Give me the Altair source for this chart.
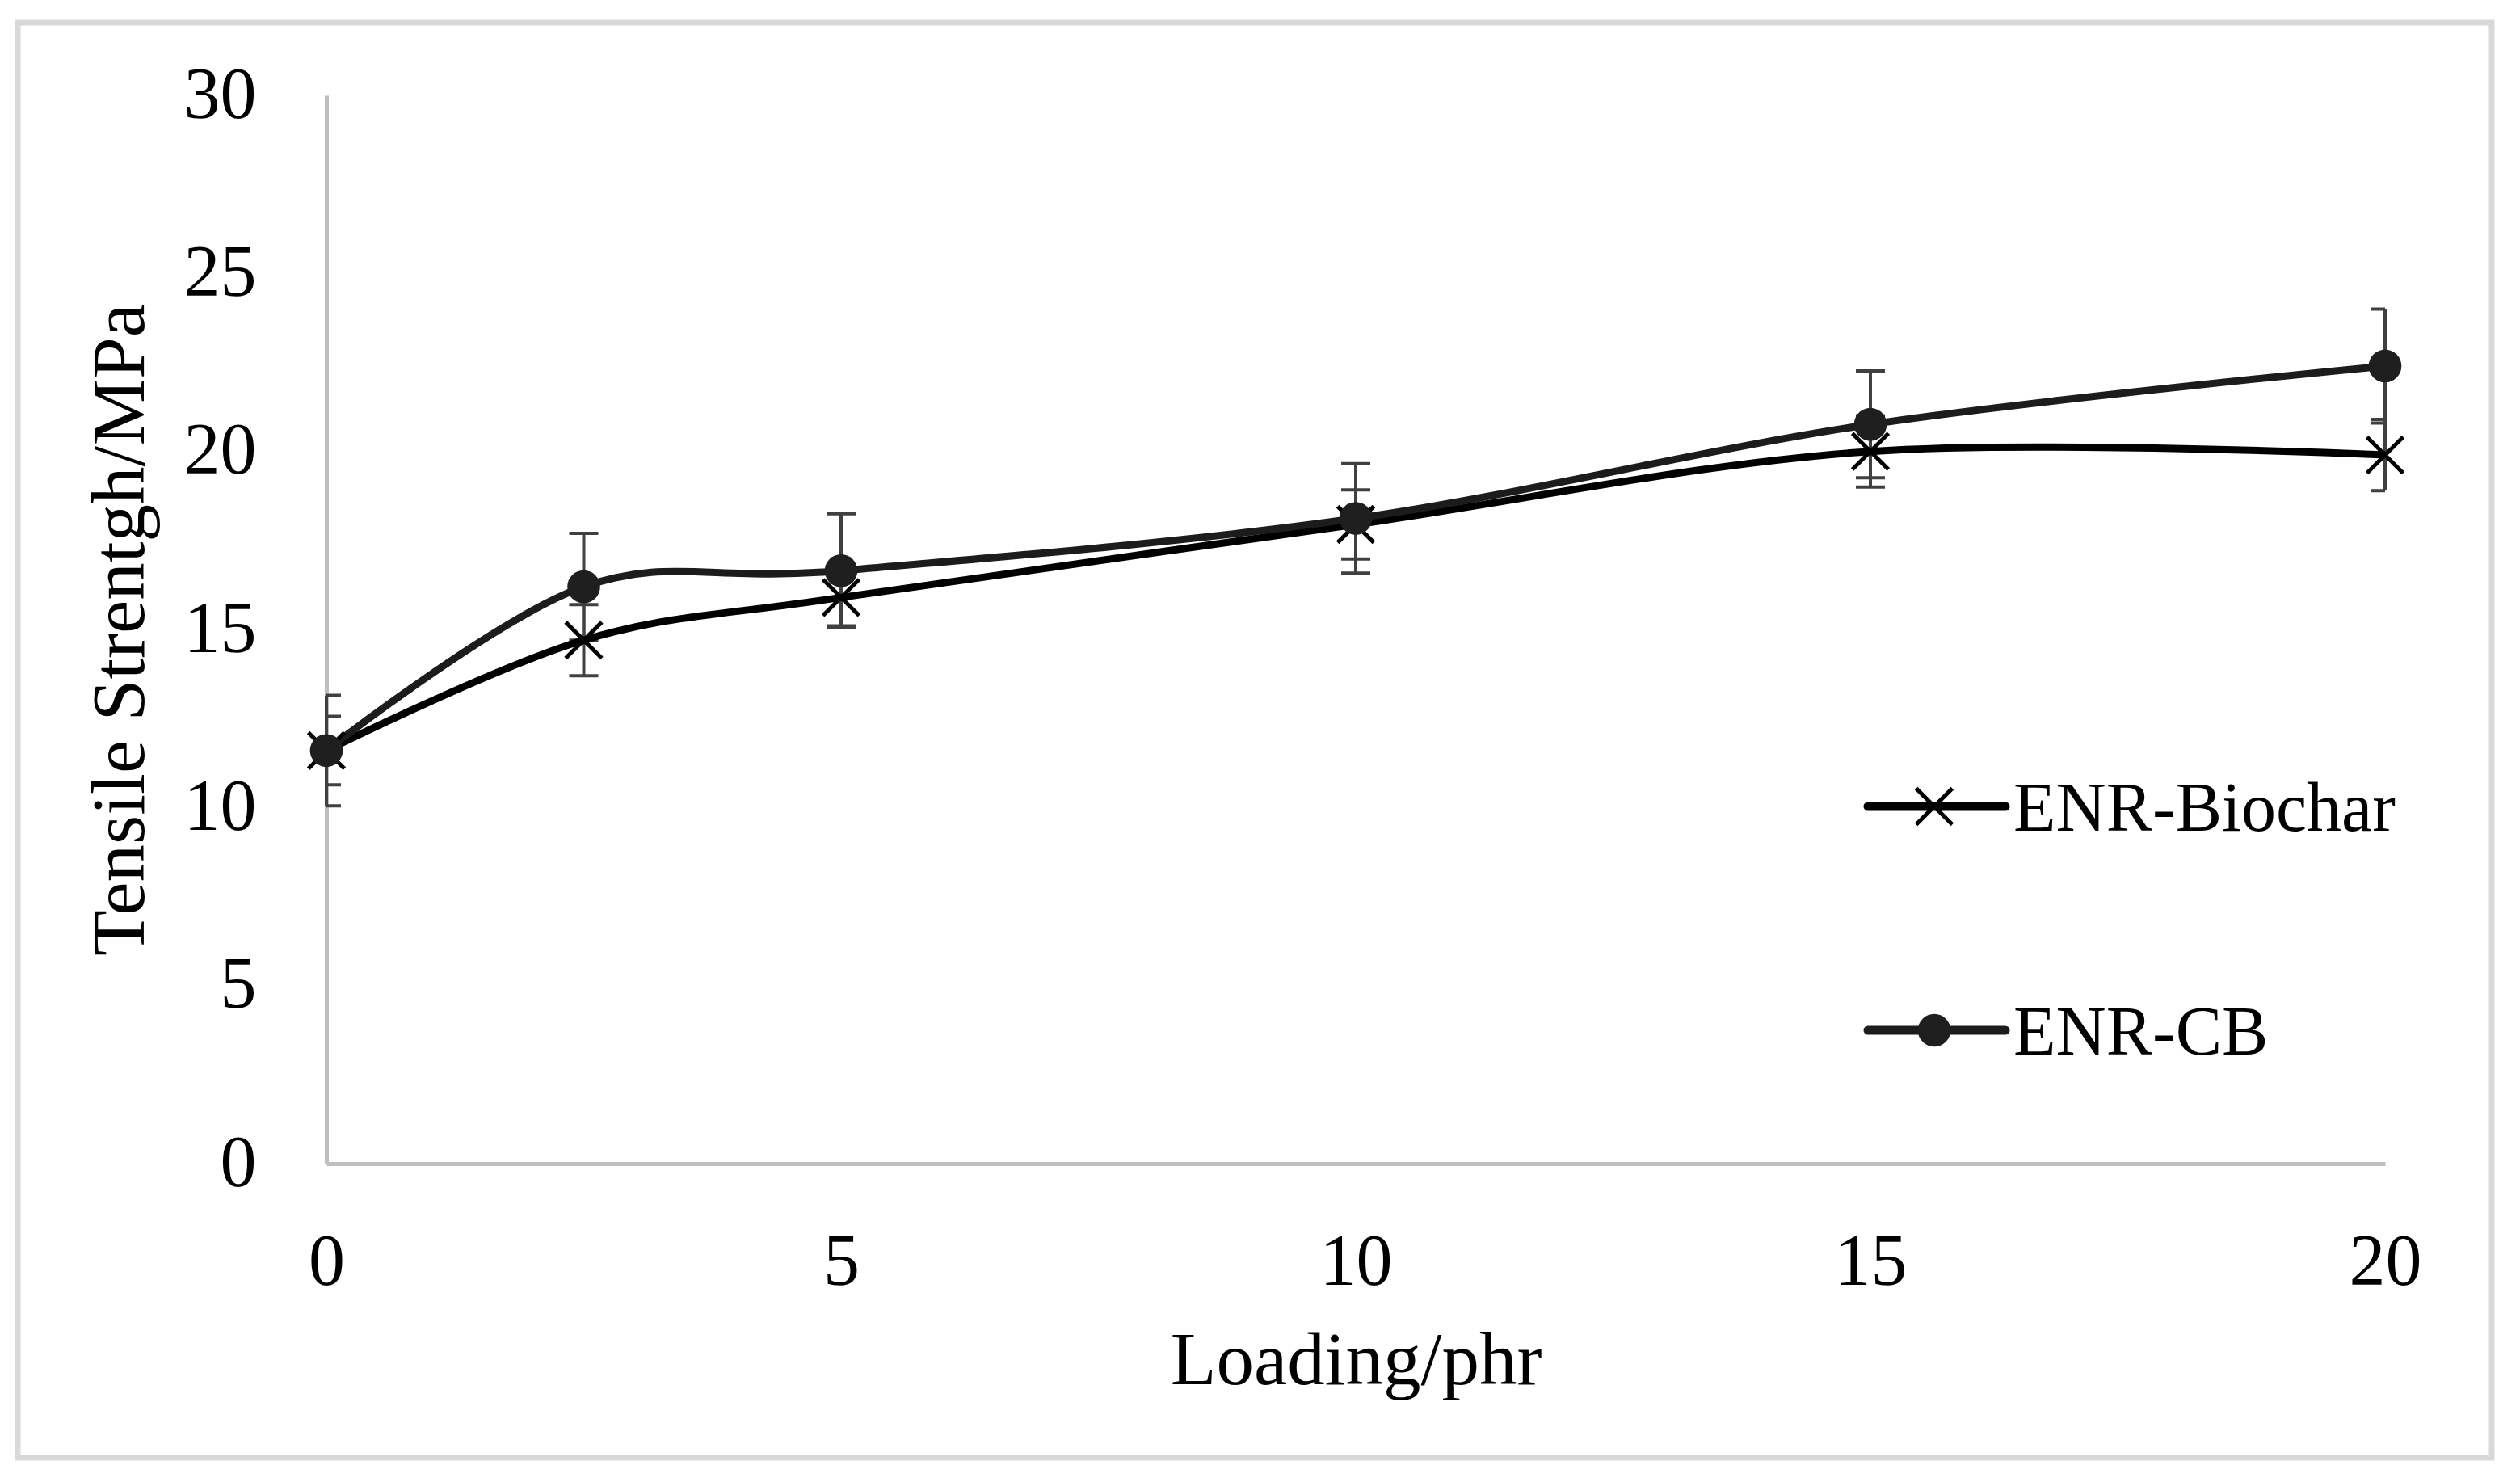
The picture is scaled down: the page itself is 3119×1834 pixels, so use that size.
import altair as alt
import pandas as pd

# ---- data ----
loading = [0, 2.5, 5, 10, 15, 20]
biochar = [11.6, 14.7, 15.9, 17.95, 20.0, 19.9]
biochar_err = [0.96, 1.0, 0.8, 0.97, 1.0, 1.0]
cb = [11.6, 16.2, 16.65, 18.12, 20.76, 22.4]
cb_err = [1.55, 1.5, 1.6, 1.54, 1.5, 1.6]
series_names = ["ENR-Biochar", "ENR-CB"]
x_ticks = [0, 5, 10, 15, 20]
y_ticks = [0, 5, 10, 15, 20, 25, 30]

rows = []
for name, vals, errs in [(series_names[0], biochar, biochar_err), (series_names[1], cb, cb_err)]:
    for x, v, e in zip(loading, vals, errs):
        rows.append({"series": name, "loading": x, "ts": v, "lo": v - e, "hi": v + e})
df = pd.DataFrame(rows)

FONT = "Liberation Serif"
W, H = 2548, 1322
X_PATH = "M-1,-1L1,1M-1,1L1,-1"

xs = alt.Scale(domain=[0, 20], nice=False, zero=False)
ys = alt.Scale(domain=[0, 30], nice=False)

x_axis = alt.Axis(values=x_ticks, format="d", labelFlush=False, title="Loading/phr",
                  labelPadding=78, titleY=272, titleBaseline="alphabetic")
y_axis = alt.Axis(values=y_ticks, format="d", labelFlush=False, title="Tensile Strentgh/MPa",
                  labelPadding=87, titleX=-227, titleBaseline="alphabetic")

base = alt.Chart(df)

stems = base.mark_rule(color="#404040", strokeWidth=4).encode(
    x=alt.X("loading:Q", scale=xs, axis=x_axis),
    y=alt.Y("lo:Q", scale=ys, axis=y_axis),
    y2="hi:Q",
)
caps_hi = base.mark_tick(orient="horizontal", size=36, thickness=4, color="#404040",
                         clip=True, opacity=1).encode(
    x=alt.X("loading:Q", scale=xs), y=alt.Y("hi:Q", scale=ys))
caps_lo = base.mark_tick(orient="horizontal", size=36, thickness=4, color="#404040",
                         clip=True, opacity=1).encode(
    x=alt.X("loading:Q", scale=xs), y=alt.Y("lo:Q", scale=ys))

line_bio = base.transform_filter(alt.datum.series == series_names[0]).mark_line(
    interpolate="cardinal", strokeWidth=9, color="#000000").encode(
    x=alt.X("loading:Q", scale=xs), y=alt.Y("ts:Q", scale=ys))
line_cb = base.transform_filter(alt.datum.series == series_names[1]).mark_line(
    interpolate="cardinal", strokeWidth=9, color="#1c1c1c").encode(
    x=alt.X("loading:Q", scale=xs), y=alt.Y("ts:Q", scale=ys))

pts_bio = base.transform_filter(alt.datum.series == series_names[0]).mark_point(
    shape=X_PATH, filled=False, size=2000, strokeWidth=5, color="#000000", opacity=1).encode(
    x=alt.X("loading:Q", scale=xs), y=alt.Y("ts:Q", scale=ys))
pts_cb = base.transform_filter(alt.datum.series == series_names[1]).mark_point(
    shape="circle", filled=True, size=1650, color="#1f1f1f", opacity=1).encode(
    x=alt.X("loading:Q", scale=xs), y=alt.Y("ts:Q", scale=ys))

# ---- legend (inside the plot, right side) ----
legend_layers = []
for i, name in enumerate(series_names):
    ld = pd.DataFrame({"label": [name]})
    ly = 880 + i * 277
    lc = alt.Chart(ld)
    legend_layers.append(lc.mark_rule(strokeWidth=11, color="#000000" if i == 0 else "#1c1c1c",
                                      strokeCap="round").encode(
        x=alt.value(1908), x2=alt.value(2078), y=alt.value(ly)))
    if i == 0:
        legend_layers.append(lc.mark_point(shape=X_PATH, filled=False, size=2000, strokeWidth=5,
                                           color="#000000", opacity=1).encode(
            x=alt.value(1990), y=alt.value(ly)))
    else:
        legend_layers.append(lc.mark_point(shape="circle", filled=True, size=1650,
                                           color="#1f1f1f", opacity=1).encode(
            x=alt.value(1990), y=alt.value(ly)))
    legend_layers.append(lc.mark_text(font=FONT, fontSize=86, align="left", baseline="alphabetic",
                                      color="#000000").encode(
        x=alt.value(2088), y=alt.value(ly + 30), text="label:N"))

# ---- outer light-grey frame ----
frame = alt.Chart(pd.DataFrame({"f": [0]})).mark_rect(
    fill=None, stroke="#d9d9d9", strokeWidth=7).encode(
    x=alt.value(-382), x2=alt.value(2680), y=alt.value(-90), y2=alt.value(1686))

chart = alt.layer(
    frame, stems, caps_hi, caps_lo, line_bio, line_cb, pts_bio, pts_cb, *legend_layers
).properties(
    width=W, height=H,
    padding={"left": 10, "top": 16, "right": 10, "bottom": 10},
    background="white",
).configure_view(stroke=None).configure_axis(
    grid=False, ticks=False, tickSize=0,
    domainColor="#bfbfbf", domainWidth=5,
    labelFont=FONT, labelFontSize=90, labelColor="#000000",
    titleFont=FONT, titleFontSize=93, titleFontWeight="normal", titleColor="#000000",
)

chart.save("out.html", embed_options={"renderer": "svg", "actions": False})
